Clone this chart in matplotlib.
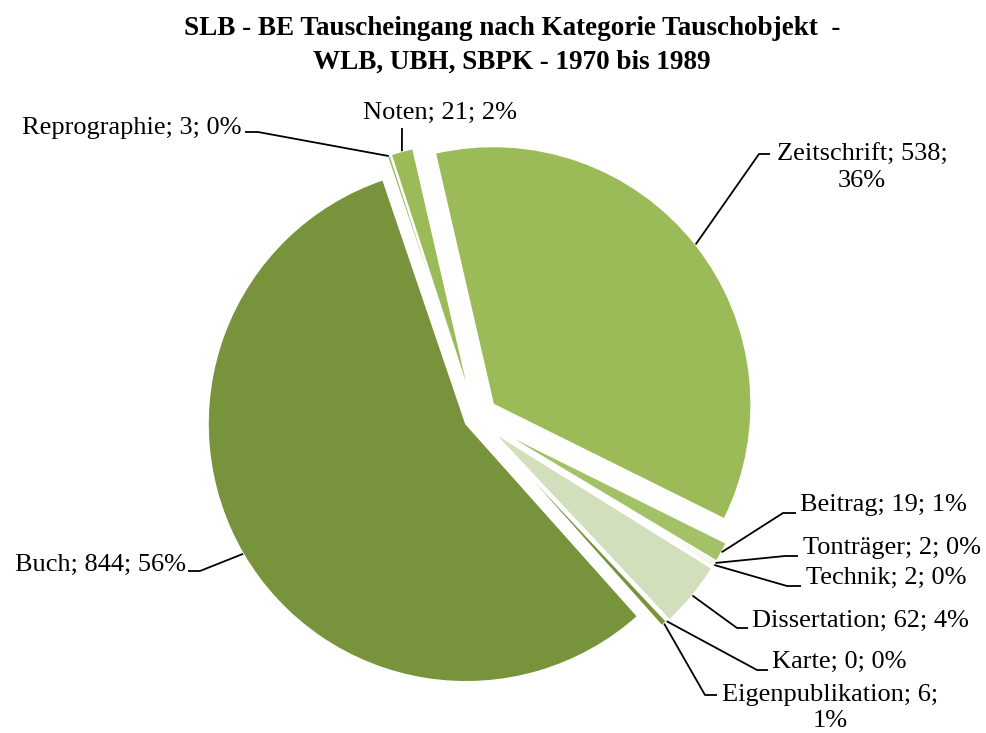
import numpy as np
import matplotlib.pyplot as plt

categories = ['Zeitschrift', 'Beitrag', 'Tonträger', 'Technik', 'Dissertation',
              'Karte', 'Eigenpublikation', 'Buch', 'Reprographie', 'Noten']
counts = [538, 19, 2, 2, 62, 0, 6, 844, 3, 21]
percent_labels = ['36%', '1%', '0%', '0%', '4%', '0%', '1%', '56%', '0%', '2%']

colors = ['#9BBB59', '#A3C166', '#C3D69B', '#C3D69B', '#D1DFBC',
          '#77933C', '#77933C', '#77933C', '#9BBB59', '#9BBB59']
explode_frac = [0.085, 0.085, 0.085, 0.085, 0.085, 0.08, 0.08, 0.045, 0.07, 0.073]

W, H = 986, 733
R = 258
plt.rcParams['font.family'] = ['Liberation Serif', 'DejaVu Serif']

fig = plt.figure(figsize=(W / 100, H / 100), dpi=100)
ax = fig.add_axes([0, 0, 1, 1])

def Y(y):
    return H - y

# matplotlib's explode is an absolute offset, so scale by the radius
wedges, _ = ax.pie(counts, colors=colors, explode=[e * R for e in explode_frac],
                   startangle=103, counterclock=False, radius=R,
                   center=(476, Y(418)),
                   wedgeprops=dict(edgecolor='white', linewidth=1.2))
ax.set_xlim(0, W)
ax.set_ylim(0, H)
ax.set_aspect('equal')
ax.axis('off')

# label text: (x, y, ha, elbow points in pixel coords, y down)
layout = {
    'Zeitschrift': (862, 168, 'center', [(759, 154), (770, 154)]),
    'Beitrag': (800, 505, 'left', [(783, 513), (796, 513)]),
    'Tonträger': (803, 548, 'left', [(785, 556), (798, 556)]),
    'Technik': (806, 578, 'left', [(787, 586), (801, 586)]),
    'Dissertation': (752, 621, 'left', [(737, 628), (748, 628)]),
    'Karte': (772, 662, 'left', [(757, 670), (768, 670)]),
    'Eigenpublikation': (830, 708, 'center', [(705, 695), (717, 695)]),
    'Buch': (186, 565, 'right', [(200, 571), (188, 571)]),
    'Reprographie': (242, 128, 'right', [(258, 132), (245, 132)]),
    'Noten': (440, 113, 'center', [(402, 128)]),
}

for w, cat, n, pct in zip(wedges, categories, counts, percent_labels):
    tx, ty, ha, elbow = layout[cat]
    if cat in ('Zeitschrift', 'Eigenpublikation'):
        text = f'{cat}; {n};\n{pct}'
    else:
        text = f'{cat}; {n}; {pct}'
    ax.text(tx, Y(ty), text, ha=ha, va='center', fontsize=19,
            linespacing=1.22, color='black')
    mid = np.deg2rad((w.theta1 + w.theta2) / 2)
    cx, cy = w.center
    anchor = (cx + w.r * np.cos(mid), cy + w.r * np.sin(mid))
    xs = [anchor[0]] + [p[0] for p in elbow]
    ys = [anchor[1]] + [Y(p[1]) for p in elbow]
    ax.plot(xs, ys, color='black', linewidth=1.3, solid_capstyle='butt')

ax.text(512, Y(45), 'SLB - BE Tauscheingang nach Kategorie Tauschobjekt  -\n'
        'WLB, UBH, SBPK - 1970 bis 1989', ha='center', va='center',
        fontsize=19.5, fontweight='bold', linespacing=1.45)

fig.savefig('out.png', dpi=100)
